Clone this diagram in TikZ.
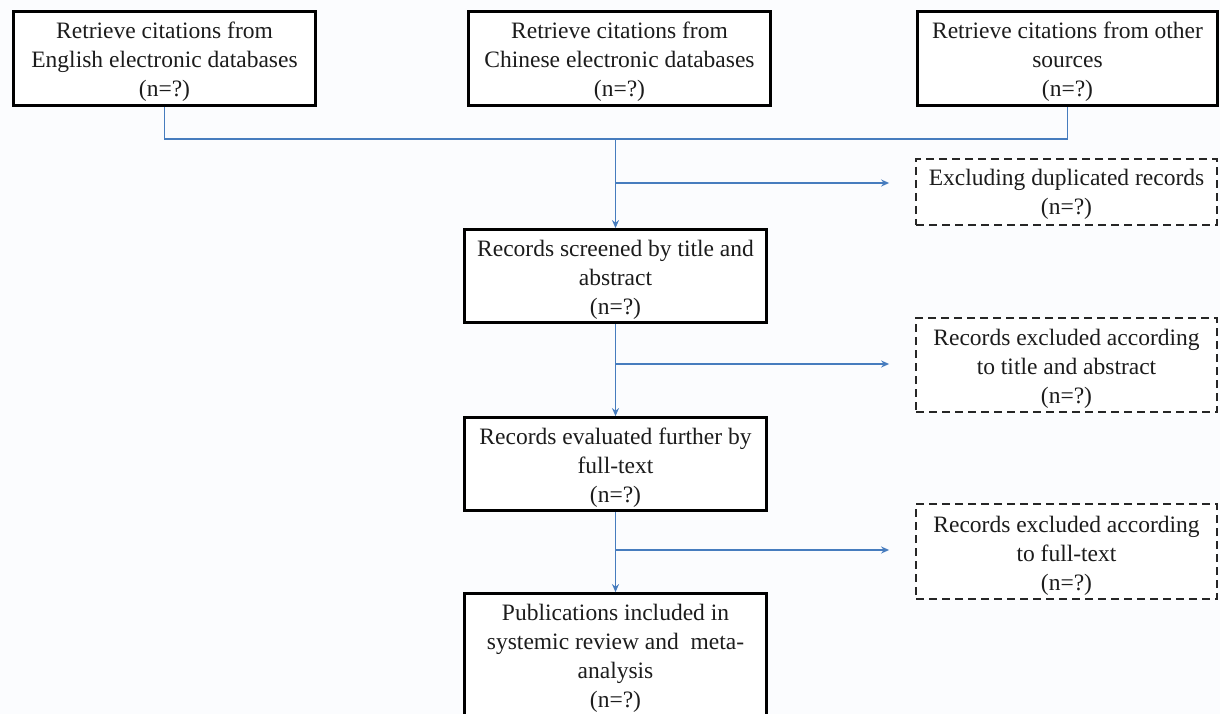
\documentclass[tikz,border=0pt]{standalone}
\usepackage{fontspec}
\setmainfont{Liberation Serif}
\usetikzlibrary{arrows.meta}
\definecolor{linkblue}{RGB}{70,124,190}
\definecolor{bgcol}{RGB}{251,252,254}
\definecolor{txt}{RGB}{28,28,28}
\newcommand\firstst{\rule{0pt}{24pt}}
\tikzset{
  solidbox/.style={draw=black, line width=2.8pt, fill=white, text=txt, align=center,
    font=\fontsize{23.5}{29}\selectfont, inner sep=0pt},
  dashbox/.style={draw=black!85, line width=1.8pt, dash pattern=on 8pt off 5pt, fill=white,
    text=txt, align=center, font=\fontsize{23.5}{29}\selectfont, inner sep=0pt},
  link/.style={draw=linkblue, line width=1.4pt},
  arrowlink/.style={link, -{Stealth[length=8pt,width=7pt]}}
}
\begin{document}
\begin{tikzpicture}[x=1pt,y=-1pt]
\fill[bgcol] (0,0) rectangle (1220,714);
\useasboundingbox (0,0) rectangle (1220,714);
\begin{scope}
\clip (0,0) rectangle (1220,714);
% top sources
\node[solidbox, minimum width=302pt, minimum height=94pt] (e) at (164.5,58.5)
  {\firstst Retrieve citations from\\English electronic databases\\(n=?)};
\node[solidbox, minimum width=302pt, minimum height=94pt] (c) at (619.5,58.5)
  {\firstst Retrieve citations from\\Chinese electronic databases\\(n=?)};
\node[solidbox, minimum width=300pt, minimum height=94pt] (o) at (1067.5,58.5)
  {\firstst Retrieve citations from other\\sources\\(n=?)};
% main column
\node[solidbox, minimum width=302pt, minimum height=93pt] (s) at (615.5,276)
  {\firstst Records screened by title and\\abstract\\(n=?)};
\node[solidbox, minimum width=302pt, minimum height=93pt] (f) at (615.5,464)
  {\firstst Records evaluated further by\\full-text\\(n=?)};
\node[solidbox, minimum width=302pt, minimum height=130pt] (p) at (615.5,658.5)
  {Publications included in\\systemic review and\ \ meta-\\analysis\\(n=?)};
% exclusions
\node[dashbox, minimum width=301pt, minimum height=66pt] (d1) at (1066.5,192)
  {\rule{0pt}{21pt}Excluding duplicated records\\(n=?)};
\node[dashbox, minimum width=301pt, minimum height=94pt] (d2) at (1066.5,365)
  {\firstst Records excluded according\\to title and abstract\\(n=?)};
\node[dashbox, minimum width=301pt, minimum height=95pt] (d3) at (1066.5,551.5)
  {\firstst Records excluded according\\to full-text\\(n=?)};
% junction and branch points
\coordinate (j) at (615.5,139);
\coordinate (b1) at (615.5,183);
\coordinate (b2) at (615.5,364);
\coordinate (b3) at (615.5,550);
% connectors
\draw[link] (e.south) -- (e.south |- j) -- (o.south |- j) -- (o.south);
\draw[arrowlink] (j) -- (s.north);
\draw[arrowlink, shorten >=26pt] (b1) -- (b1 -| d1.west);
\draw[arrowlink] (s.south) -- (f.north);
\draw[arrowlink, shorten >=26pt] (b2) -- (b2 -| d2.west);
\draw[arrowlink] (f.south) -- (p.north);
\draw[arrowlink, shorten >=26pt] (b3) -- (b3 -| d3.west);
\end{scope}
\end{tikzpicture}
\end{document}
